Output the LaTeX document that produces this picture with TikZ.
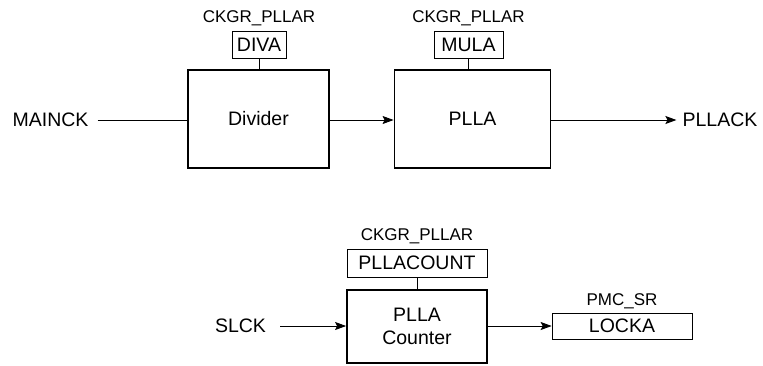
\documentclass[tikz,border=0pt]{standalone}
\usepackage{fontspec}
\setmainfont{Liberation Sans}
\usetikzlibrary{positioning, arrows.meta}

\begin{document}
\begin{tikzpicture}[x=1pt, y=-1pt,
    blk/.style={rectangle, draw, line width=1.8pt, minimum height=98pt,
                font=\fontsize{19.5}{23}\selectfont, align=center, inner sep=0pt},
    reg/.style={rectangle, draw, line width=0.7pt, minimum height=27pt,
                font=\fontsize{19.5}{22}\selectfont, inner sep=2pt},
    lbl/.style={font=\fontsize{17}{19}\selectfont, inner sep=0pt},
    sig/.style={font=\fontsize{19.5}{22}\selectfont, inner sep=0pt},
    arr/.style={-{Stealth[length=11pt, width=8pt, inset=2pt]}, line width=0.9pt}
  ]
  \useasboundingbox (0,0) rectangle (763,365);

  % Divider and PLLA
  \node[blk, minimum width=141pt] (div) at (258.5,119) {Divider};
  \node[blk, minimum width=156pt] (plla) at (472.5,119) {PLLA};
  \node[reg, minimum width=54pt] (diva) at (259,44.5) {DIVA};
  \node[reg, minimum width=69pt] (mula) at (468.5,44.5) {MULA};
  \node[lbl, above=5pt of diva] (divareg) {CKGR\_PLLAR};
  \node[lbl, above=5pt of mula] (mulareg) {CKGR\_PLLAR};
  \draw[line width=0.7pt] (diva.south) -- (diva.south |- div.north);
  \draw[line width=0.7pt] (mula.south) -- (mula.south |- plla.north);

  \node[sig] (mainck) at (50.5,120) {MAINCK};
  \node[sig] (pllack) at (720,120) {PLLACK};
  \draw[line width=0.9pt, shorten <=9pt] (mainck.east) -- (mainck.east -| div.west);
  \draw[arr] (div.east |- mainck) -- (plla.west |- mainck);
  \draw[arr, shorten >=6pt] (plla.east |- pllack) -- (pllack.west);

  % PLLA counter
  \node[blk, minimum width=140pt, minimum height=73pt] (cnt) at (417,326.5)
        {PLLA\\Counter};
  \node[reg, minimum width=140pt, minimum height=28pt] (pllacount) at (417,263)
        {PLLACOUNT};
  \node[lbl, above=5pt of pllacount] (cntreg) {CKGR\_PLLAR};
  \draw[line width=0.7pt] (pllacount) -- (cnt);

  \node[reg, minimum width=140pt, minimum height=26pt] (locka) at (622,326) {LOCKA};
  \node[lbl, above=3.5pt of locka] (srreg) {PMC\_SR};

  \node[sig] (slck) at (240.5,326) {SLCK};
  \draw[arr, shorten <=14pt] (slck.east) -- (cnt.west |- slck);
  \draw[arr] (cnt.east |- locka) -- (locka.west);
\end{tikzpicture}
\end{document}
